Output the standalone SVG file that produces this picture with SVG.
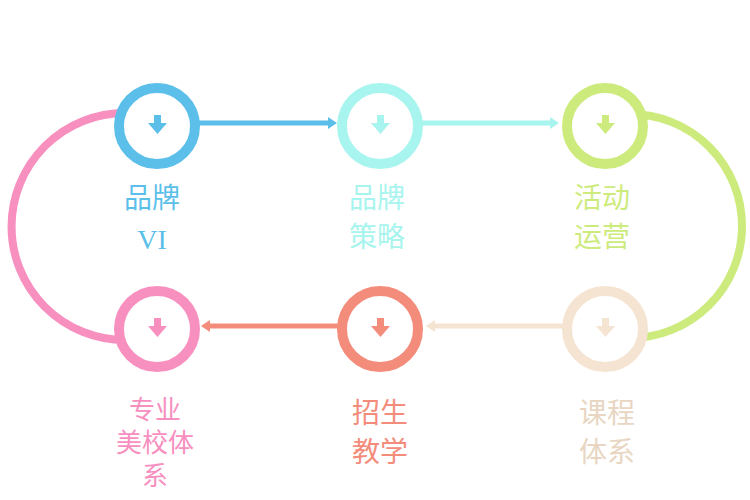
<svg xmlns="http://www.w3.org/2000/svg" width="750" height="500" viewBox="0 0 750 500">
<style>
.ring{fill:#fff;stroke-width:10}
.t{font-family:"Liberation Serif","Noto Sans CJK SC",serif;font-size:28px;text-anchor:middle}
.s{font-size:26px}
.c{stroke-width:5;fill:none}
</style>
<rect width="750" height="500" fill="#fff"/>
<g id="connectors">
<path d="M125 113 A113 113 0 0 0 125 340" stroke="#f78fbf" stroke-width="8" fill="none"/>
<path d="M630 114 A112 112 0 0 1 630 338" stroke="#cdeb7c" stroke-width="8" fill="none"/>
<line x1="198" y1="123" x2="330" y2="123" class="c" stroke="#5bbfea"/><path d="M337 123 L328 117 L328 129Z" fill="#5bbfea"/>
<line x1="420" y1="123" x2="552" y2="123" class="c" stroke="#a8f4ee"/><path d="M559 123 L550 117 L550 129Z" fill="#a8f4ee"/>
<line x1="565" y1="326" x2="433" y2="326" class="c" stroke="#f5e4d2"/><path d="M426 326 L435 320 L435 332Z" fill="#f5e4d2"/>
<line x1="340" y1="326" x2="208" y2="326" class="c" stroke="#f48c7c"/><path d="M201 326 L210 320 L210 332Z" fill="#f48c7c"/>
</g>
<g id="n1"><circle cx="157" cy="126" r="38" class="ring" stroke="#5bbfea"/><path d="M154 115h7v8h6l-9.5 11-9.5-11h6z" fill="#5bbfea"/><text class="t" x="152" y="208" fill="#5bbfea">品牌</text><text class="t" x="152" y="249" fill="#5bbfea">VI</text></g>
<g id="n2"><circle cx="380" cy="126" r="38" class="ring" stroke="#a8f4ee"/><path d="M377 115h7v8h6l-9.5 11-9.5-11h6z" fill="#a8f4ee"/><text class="t" x="377" y="208" fill="#a8f4ee">品牌</text><text class="t" x="377" y="247" fill="#a8f4ee">策略</text></g>
<g id="n3"><circle cx="605" cy="126" r="38" class="ring" stroke="#cdeb7c"/><path d="M602 115h7v8h6l-9.5 11-9.5-11h6z" fill="#cdeb7c"/><text class="t" x="602" y="208" fill="#cdeb7c">活动</text><text class="t" x="602" y="247" fill="#cdeb7c">运营</text></g>
<g id="n4"><circle cx="605" cy="329" r="38" class="ring" stroke="#f5e4d2"/><path d="M602 318h7v8h6l-9.5 11-9.5-11h6z" fill="#f5e4d2"/><text class="t" x="607" y="423" fill="#e8d6c2">课程</text><text class="t" x="607" y="462" fill="#e8d6c2">体系</text></g>
<g id="n5"><circle cx="380" cy="329" r="38" class="ring" stroke="#f48c7c"/><path d="M377 318h7v8h6l-9.5 11-9.5-11h6z" fill="#f48c7c"/><text class="t" x="380" y="423" fill="#f48c7c">招生</text><text class="t" x="380" y="462" fill="#f48c7c">教学</text></g>
<g id="n6"><circle cx="157" cy="329" r="38" class="ring" stroke="#f78fbf"/><path d="M154 318h7v8h6l-9.5 11-9.5-11h6z" fill="#f78fbf"/><text class="t s" x="155" y="419" fill="#f78fbf">专业</text><text class="t s" x="155" y="452" fill="#f78fbf">美校体</text><text class="t s" x="155" y="485" fill="#f78fbf">系</text></g>
</svg>
